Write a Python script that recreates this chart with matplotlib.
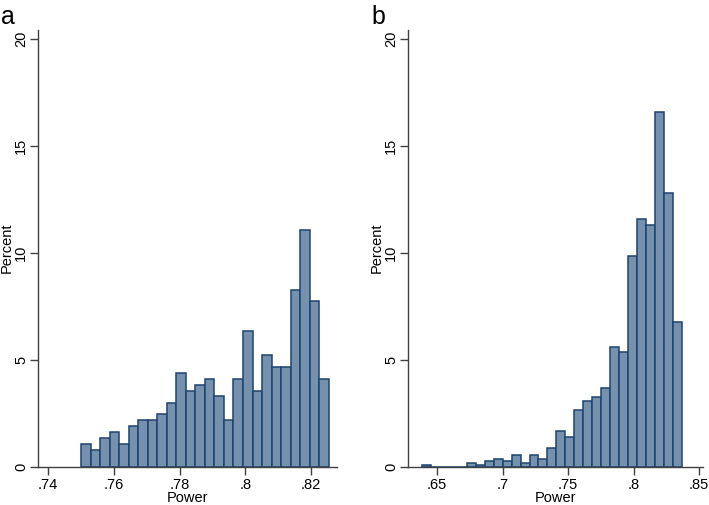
import numpy as np
import matplotlib
matplotlib.use("Agg")
import matplotlib.pyplot as plt

plt.rcParams['font.family'] = ['Liberation Sans', 'DejaVu Sans']

# panel a: histogram of power, 26 bins starting at .75
a_start = 0.75
a_width = 0.00290
a_pct = [1.07, 0.79, 1.35, 1.63, 1.07, 1.91, 2.18, 2.18, 2.47, 3.01,
         4.41, 3.57, 3.85, 4.12, 3.31, 2.18, 4.12, 6.34, 3.57, 5.24,
         4.68, 4.68, 8.28, 11.05, 7.74, 4.12]
a_ticks = [0.74, 0.76, 0.78, 0.80, 0.82]
a_labels = ['.74', '.76', '.78', '.8', '.82']

# panel b: 29 bins starting at .6385
b_start = 0.6385
b_width = 0.00684
b_pct = [0.10, 0, 0, 0, 0, 0.17, 0.09, 0.26, 0.37, 0.26,
         0.58, 0.17, 0.58, 0.37, 0.88, 1.68, 1.39, 2.68, 3.07, 3.27,
         3.68, 5.58, 5.36, 9.87, 11.57, 11.28, 16.57, 12.77, 6.76]
b_ticks = [0.65, 0.70, 0.75, 0.80, 0.85]
b_labels = ['.65', '.7', '.75', '.8', '.85']

y_ticks = [0, 5, 10, 15, 20]

fill = '#7691ae'
edge = '#1d436f'
axcol = '#404040'
fs = 10.5

fig = plt.figure(figsize=(7.09, 5.05), dpi=100)
W, H = 709, 505


def panel(left, right, start, width, pct, ticks, labels, xlim, letter):
    ax = fig.add_axes([left / W, (H - 467) / H, (right - left) / W, (467 - 30) / H])
    edges = start + width * np.arange(len(pct))
    ax.bar(edges, pct, width=width, align='edge', color=fill,
           edgecolor=edge, linewidth=1.1)
    ax.set_xlim(*xlim)
    ax.set_ylim(0, 20.4)
    ax.set_xticks(ticks)
    ax.set_xticklabels(labels)
    ax.set_yticks(y_ticks)
    ax.set_yticklabels([str(t) for t in y_ticks], rotation=90, va='center')
    for s in ['top', 'right']:
        ax.spines[s].set_visible(False)
    for s in ['left', 'bottom']:
        ax.spines[s].set_color(axcol)
        ax.spines[s].set_linewidth(1.0)
    ax.tick_params(colors=axcol, labelcolor='black', labelsize=fs,
                   length=6, width=1.0)
    ax.tick_params(axis='x', pad=2)
    ax.tick_params(axis='y', pad=1)
    # axis titles placed in figure pixels
    fig.text((left + right) / 2 / W, 0, 'Power',
             fontsize=fs, ha='center', va='bottom')
    fig.text((left - 38) / W, (H - 248) / H, 'Percent', fontsize=fs,
             rotation=90, ha='left', va='center')
    fig.text((left - 38) / W + 0.002, 0.99, letter, fontsize=18,
             ha='left', va='top')
    return ax


panel(38, 337, a_start, a_width, a_pct, a_ticks, a_labels, (0.7369, 0.8279), 'a')
panel(408, 703, b_start, b_width, b_pct, b_ticks, b_labels, (0.6278, 0.8530), 'b')

fig.savefig('out.png', dpi=100)
